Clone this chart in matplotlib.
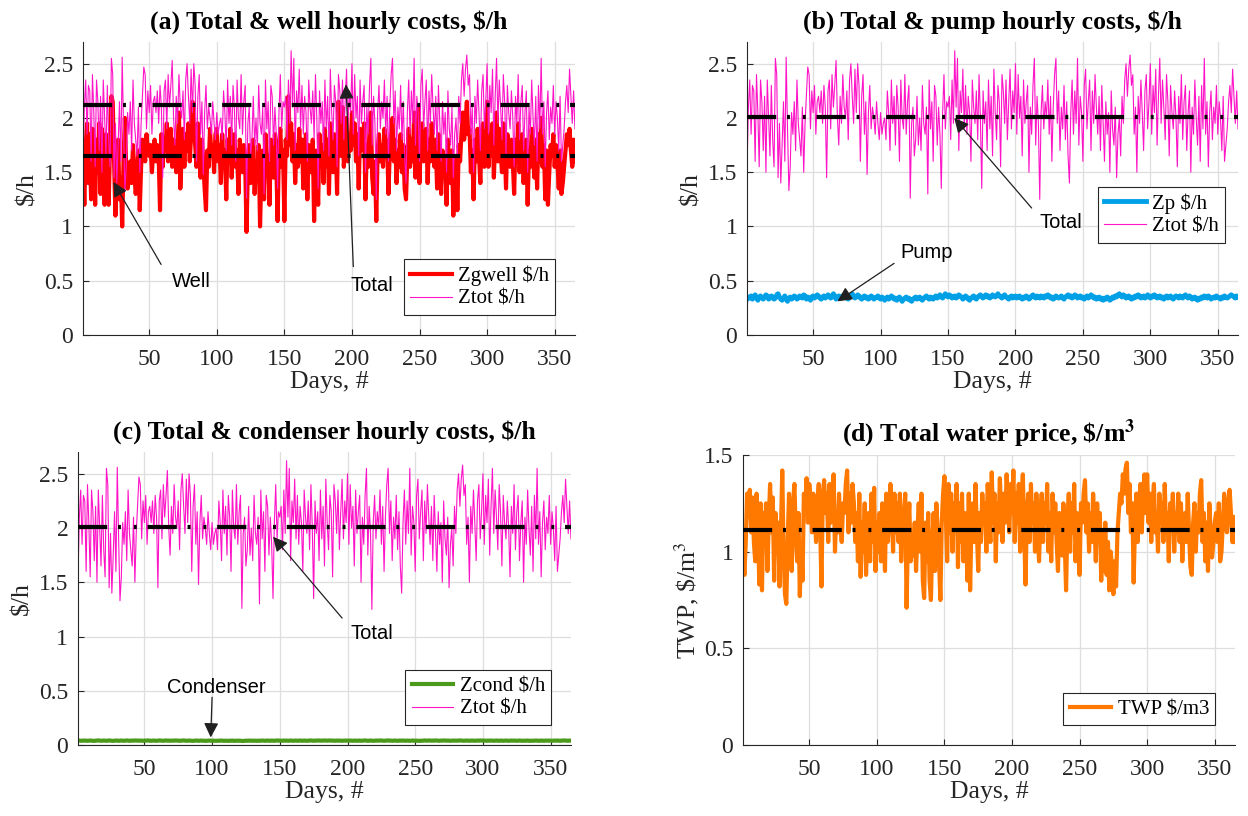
import numpy as np
import matplotlib.pyplot as plt

plt.rcParams['font.family'] = ['Liberation Serif', 'DejaVu Serif']
plt.rcParams['mathtext.fontset'] = 'stix'

# daily values (day 1 .. 365)
ztot = [
    1.55, 2.10, 2.35, 1.85, 2.30, 2.25, 1.60, 2.40, 2.05, 1.55, 2.35, 2.15, 1.70, 2.20, 1.50, 2.35, 2.00, 1.65, 2.30, 1.80,
    1.55, 2.55, 2.40, 1.45, 1.95, 1.40, 1.75, 2.15, 1.60, 2.56, 1.90, 1.33, 1.55, 2.05, 1.85, 2.15, 1.70, 2.35, 1.95, 1.80,
    1.65, 2.10, 1.50, 1.95, 2.20, 2.47, 2.40, 1.90, 2.25, 2.05, 2.30, 1.85, 2.15, 2.20, 2.05, 2.25, 1.95, 2.30, 2.10, 1.45,
    2.25, 2.35, 1.90, 2.40, 2.10, 2.30, 2.53, 2.00, 1.75, 2.20, 1.95, 2.40, 2.10, 2.00, 2.25, 1.80, 2.35, 2.50, 2.20, 1.95,
    2.45, 2.05, 2.50, 2.30, 1.60, 2.20, 2.40, 1.85, 2.15, 1.48, 2.05, 2.30, 1.90, 2.10, 2.00, 1.85, 2.15, 1.95, 1.80, 2.05,
    1.85, 1.95, 2.00, 1.80, 2.25, 2.05, 1.70, 2.35, 1.95, 2.20, 1.75, 2.30, 2.10, 1.60, 2.35, 2.00, 1.90, 2.40, 1.85, 2.15,
    2.30, 1.26, 1.95, 2.10, 1.65, 1.80, 2.20, 1.75, 2.00, 1.70, 2.30, 1.95, 1.85, 2.10, 1.30, 2.35, 1.90, 2.15, 1.60, 2.30,
    2.20, 1.75, 2.10, 1.85, 1.35, 2.05, 2.40, 1.90, 2.15, 2.10, 2.20, 1.80, 2.35, 1.95, 2.62, 2.10, 2.55, 1.70, 2.25, 2.05,
    2.45, 1.90, 2.30, 1.85, 2.20, 2.05, 1.60, 2.35, 2.10, 1.95, 2.25, 1.80, 2.40, 2.00, 1.35, 2.25, 1.95, 2.15, 1.70, 2.35,
    1.90, 2.20, 1.65, 2.45, 2.05, 1.80, 2.30, 2.15, 1.55, 2.40, 2.25, 1.95, 2.35, 1.80, 2.15, 2.45, 1.90, 2.25, 2.05, 2.50,
    1.85, 2.40, 2.00, 2.20, 1.65, 2.35, 1.95, 2.15, 2.30, 1.50, 2.10, 1.85, 2.30, 2.55, 1.75, 2.20, 1.95, 1.25, 2.05, 2.30,
    1.90, 2.15, 2.00, 2.35, 1.85, 2.20, 1.60, 2.10, 2.40, 2.55, 1.95, 2.25, 1.70, 2.10, 1.90, 2.30, 1.80, 2.15, 1.65, 1.40,
    2.05, 2.35, 1.85, 2.25, 1.95, 2.55, 1.75, 2.20, 2.05, 1.60, 2.30, 2.45, 1.90, 2.15, 2.35, 1.70, 2.25, 1.95, 2.40, 2.10,
    1.85, 2.20, 1.70, 2.30, 1.95, 1.60, 2.15, 1.85, 2.05, 1.50, 2.25, 1.90, 1.75, 2.10, 1.45, 1.85, 2.00, 1.65, 2.20, 1.95,
    2.35, 2.50, 2.20, 2.45, 2.58, 2.30, 2.40, 1.85, 2.10, 1.50, 2.20, 1.95, 2.35, 2.05, 1.70, 2.25, 2.40, 1.90, 2.15, 2.50,
    1.85, 2.30, 2.05, 2.45, 1.75, 2.20, 2.55, 1.95, 2.35, 2.10, 1.80, 2.40, 2.15, 1.65, 2.30, 2.05, 1.90, 2.25, 2.00, 1.55,
    2.20, 1.95, 2.40, 1.80, 2.15, 2.30, 1.70, 2.05, 2.25, 1.50, 2.10, 1.85, 2.35, 2.00, 1.75, 2.20, 1.60, 2.30, 1.90, 2.55,
    1.85, 2.15, 1.55, 2.05, 2.25, 1.80, 2.10, 1.95, 2.30, 1.85, 2.15, 2.00, 1.70, 2.20, 1.60, 1.75, 1.90, 2.15, 2.30, 2.05,
    2.45, 2.20, 1.95, 2.25, 1.90,
]

zgwell = [
    1.55, 1.20, 1.75, 1.95, 1.40, 1.85, 1.25, 1.90, 1.60, 1.20, 1.80, 1.50, 1.95, 1.30, 1.90, 1.70, 1.20, 1.85, 1.45, 1.20,
    1.75, 2.20, 2.15, 1.60, 1.10, 1.55, 1.80, 1.25, 1.45, 1.00, 1.60, 2.00, 1.50, 1.35, 1.45, 1.60, 1.40, 1.75, 1.50, 1.30,
    1.45, 1.70, 1.15, 1.55, 1.80, 1.75, 1.60, 1.85, 1.70, 1.65, 1.75, 1.50, 1.70, 1.80, 1.60, 1.75, 1.65, 1.15, 1.85, 1.55,
    1.80, 1.70, 1.95, 1.60, 1.75, 1.90, 1.55, 1.80, 1.65, 1.50, 1.75, 2.05, 1.35, 1.65, 1.90, 1.55, 1.85, 1.70, 1.95, 1.60,
    1.85, 2.15, 1.90, 1.75, 1.55, 1.95, 1.70, 1.45, 1.80, 1.60, 1.35, 1.15, 1.70, 1.55, 1.90, 1.65, 1.75, 1.50, 1.85, 1.90,
    1.60, 1.75, 1.40, 1.85, 1.55, 1.70, 1.25, 1.80, 1.60, 1.90, 1.45, 1.75, 1.85, 1.55, 1.70, 1.30, 1.80, 1.65, 1.50, 1.75,
    1.60, 0.95, 1.55, 1.75, 1.40, 1.65, 1.80, 1.30, 1.60, 1.45, 1.75, 1.00, 1.50, 1.70, 1.25, 1.85, 1.55, 1.65, 1.20, 1.80,
    1.70, 1.45, 1.85, 1.60, 1.05, 1.75, 1.90, 1.55, 1.70, 1.05, 1.80, 1.65, 2.20, 1.75, 1.95, 1.60, 1.85, 1.40, 1.75, 1.55,
    1.90, 1.60, 1.80, 1.35, 1.70, 1.85, 1.25, 1.75, 1.60, 1.50, 1.80, 1.05, 1.70, 1.55, 1.20, 1.85, 1.60, 1.75, 1.40, 1.90,
    1.55, 1.80, 1.30, 1.95, 1.70, 1.50, 1.85, 1.75, 1.30, 2.15, 1.90, 1.65, 2.10, 1.55, 1.80, 2.00, 1.60, 1.85, 1.70, 2.05,
    1.75, 1.95, 1.60, 1.85, 1.35, 1.90, 1.70, 1.80, 1.95, 1.25, 1.75, 1.55, 1.90, 2.05, 1.45, 1.30, 1.60, 1.05, 1.70, 1.85,
    1.60, 1.75, 1.55, 1.90, 1.65, 1.80, 1.30, 1.70, 1.85, 2.00, 1.60, 1.80, 1.40, 1.70, 1.55, 1.85, 1.50, 1.75, 1.35, 1.25,
    1.65, 1.90, 1.55, 1.80, 1.60, 2.05, 1.45, 1.75, 2.10, 1.40, 1.85, 1.95, 1.60, 1.75, 1.90, 1.40, 1.80, 1.60, 1.95, 1.70,
    1.55, 1.80, 1.35, 1.85, 1.60, 1.30, 1.70, 1.50, 1.65, 1.20, 1.80, 1.55, 1.40, 1.70, 1.10, 1.55, 1.65, 1.15, 1.75, 1.60,
    1.85, 2.05, 1.80, 1.95, 2.15, 1.85, 1.90, 1.50, 1.70, 1.25, 1.80, 1.60, 1.90, 1.65, 1.40, 1.85, 1.95, 1.55, 1.75, 2.15,
    1.55, 1.85, 1.65, 1.95, 1.45, 1.80, 2.05, 1.60, 1.90, 1.70, 1.50, 1.95, 1.75, 1.35, 1.85, 1.65, 1.55, 1.80, 1.60, 1.30,
    1.80, 1.60, 1.95, 1.50, 1.75, 1.85, 1.40, 1.70, 1.80, 1.20, 1.70, 1.55, 1.90, 1.65, 1.45, 1.80, 1.35, 1.85, 1.60, 2.00,
    1.55, 1.75, 1.25, 1.70, 1.20, 1.50, 1.75, 1.65, 1.85, 1.55, 1.75, 1.60, 1.35, 1.70, 1.30, 1.40, 1.55, 1.70, 1.85, 1.75,
    1.90, 1.70, 1.55, 1.80, 1.60,
]

zp = [
    0.33, 0.35, 0.34, 0.36, 0.33, 0.35, 0.37, 0.34, 0.32, 0.35, 0.36, 0.34, 0.33, 0.35, 0.37, 0.36, 0.33, 0.34, 0.36, 0.35,
    0.33, 0.34, 0.37, 0.38, 0.35, 0.33, 0.32, 0.34, 0.36, 0.33, 0.31, 0.34, 0.35, 0.33, 0.34, 0.36, 0.35, 0.33, 0.34, 0.36,
    0.35, 0.34, 0.37, 0.36, 0.33, 0.35, 0.34, 0.32, 0.35, 0.36, 0.34, 0.35, 0.37, 0.36, 0.34, 0.33, 0.35, 0.36, 0.34, 0.35,
    0.37, 0.36, 0.34, 0.35, 0.38, 0.36, 0.33, 0.34, 0.36, 0.35, 0.34, 0.36, 0.37, 0.35, 0.34, 0.33, 0.35, 0.36, 0.38, 0.36,
    0.34, 0.35, 0.37, 0.36, 0.34, 0.33, 0.35, 0.36, 0.34, 0.35, 0.33, 0.34, 0.36, 0.35, 0.33, 0.34, 0.35, 0.36, 0.34, 0.33,
    0.35, 0.34, 0.32, 0.34, 0.35, 0.33, 0.34, 0.36, 0.35, 0.33, 0.34, 0.32, 0.34, 0.35, 0.33, 0.31, 0.33, 0.34, 0.35, 0.33,
    0.34, 0.32, 0.31, 0.33, 0.34, 0.35, 0.33, 0.34, 0.35, 0.33, 0.32, 0.34, 0.35, 0.36, 0.34, 0.33, 0.35, 0.34, 0.33, 0.35,
    0.36, 0.34, 0.35, 0.37, 0.35, 0.34, 0.36, 0.38, 0.36, 0.35, 0.37, 0.36, 0.34, 0.35, 0.36, 0.34, 0.35, 0.37, 0.36, 0.35,
    0.33, 0.34, 0.36, 0.35, 0.33, 0.32, 0.34, 0.35, 0.36, 0.34, 0.33, 0.35, 0.36, 0.37, 0.35, 0.34, 0.36, 0.37, 0.35, 0.36,
    0.34, 0.35, 0.37, 0.36, 0.35, 0.36, 0.38, 0.36, 0.35, 0.34, 0.36, 0.37, 0.35, 0.34, 0.33, 0.35, 0.36, 0.34, 0.35, 0.36,
    0.34, 0.35, 0.36, 0.34, 0.33, 0.35, 0.34, 0.36, 0.35, 0.33, 0.34, 0.36, 0.37, 0.35, 0.34, 0.36, 0.35, 0.34, 0.36, 0.35,
    0.34, 0.36, 0.35, 0.37, 0.36, 0.34, 0.35, 0.33, 0.34, 0.36, 0.35, 0.34, 0.35, 0.36, 0.34, 0.33, 0.35, 0.36, 0.37, 0.35,
    0.36, 0.34, 0.35, 0.37, 0.36, 0.34, 0.35, 0.36, 0.34, 0.35, 0.33, 0.35, 0.36, 0.34, 0.35, 0.37, 0.36, 0.34, 0.35, 0.33,
    0.34, 0.35, 0.33, 0.34, 0.32, 0.34, 0.33, 0.35, 0.34, 0.32, 0.33, 0.35, 0.34, 0.36, 0.35, 0.37, 0.38, 0.36, 0.35, 0.37,
    0.36, 0.34, 0.35, 0.36, 0.34, 0.33, 0.35, 0.34, 0.36, 0.35, 0.37, 0.36, 0.34, 0.35, 0.36, 0.34, 0.35, 0.37, 0.35, 0.34,
    0.36, 0.35, 0.37, 0.36, 0.34, 0.35, 0.36, 0.34, 0.35, 0.33, 0.35, 0.36, 0.34, 0.35, 0.36, 0.34, 0.33, 0.35, 0.36, 0.35,
    0.34, 0.36, 0.35, 0.34, 0.36, 0.37, 0.35, 0.34, 0.36, 0.35, 0.33, 0.34, 0.35, 0.33, 0.32, 0.34, 0.33, 0.35, 0.34, 0.36,
    0.35, 0.34, 0.36, 0.35, 0.33, 0.34, 0.35, 0.34, 0.36, 0.35, 0.34, 0.33, 0.35, 0.34, 0.36, 0.35, 0.34, 0.35, 0.36, 0.37,
    0.36, 0.35, 0.34, 0.36, 0.35,
]

zcond = [
    0.040, 0.041, 0.039, 0.040, 0.042, 0.041, 0.040, 0.039, 0.040, 0.041, 0.040, 0.039, 0.038, 0.040, 0.041, 0.042, 0.040, 0.039, 0.040, 0.041,
    0.040, 0.039, 0.041, 0.042, 0.040, 0.039, 0.038, 0.040, 0.041, 0.040, 0.039, 0.040, 0.041, 0.040, 0.039, 0.041, 0.042, 0.040, 0.039, 0.040,
    0.041, 0.040, 0.042, 0.041, 0.039, 0.040, 0.041, 0.040, 0.039, 0.041, 0.040, 0.042, 0.041, 0.040, 0.039, 0.040, 0.041, 0.040, 0.039, 0.041,
    0.042, 0.041, 0.040, 0.039, 0.041, 0.042, 0.040, 0.041, 0.039, 0.040, 0.041, 0.040, 0.042, 0.041, 0.040, 0.039, 0.040, 0.041, 0.042, 0.040,
    0.039, 0.040, 0.041, 0.040, 0.039, 0.038, 0.040, 0.041, 0.040, 0.039, 0.040, 0.041, 0.039, 0.040, 0.038, 0.039, 0.040, 0.041, 0.040, 0.039,
    0.040, 0.039, 0.038, 0.040, 0.039, 0.040, 0.041, 0.039, 0.038, 0.040, 0.039, 0.038, 0.040, 0.039, 0.041, 0.038, 0.039, 0.040, 0.039, 0.040,
    0.039, 0.038, 0.037, 0.039, 0.040, 0.039, 0.040, 0.041, 0.039, 0.040, 0.039, 0.040, 0.038, 0.040, 0.039, 0.040, 0.041, 0.040, 0.039, 0.040,
    0.041, 0.040, 0.039, 0.041, 0.040, 0.039, 0.041, 0.042, 0.040, 0.041, 0.040, 0.039, 0.041, 0.040, 0.041, 0.039, 0.040, 0.041, 0.040, 0.039,
    0.040, 0.041, 0.039, 0.040, 0.041, 0.040, 0.039, 0.041, 0.040, 0.039, 0.040, 0.041, 0.042, 0.040, 0.039, 0.041, 0.040, 0.042, 0.041, 0.040,
    0.041, 0.040, 0.042, 0.041, 0.040, 0.041, 0.042, 0.040, 0.041, 0.040, 0.039, 0.041, 0.040, 0.041, 0.040, 0.039, 0.040, 0.041, 0.040, 0.041,
    0.040, 0.041, 0.040, 0.039, 0.040, 0.041, 0.039, 0.040, 0.041, 0.039, 0.040, 0.041, 0.042, 0.040, 0.039, 0.040, 0.041, 0.040, 0.039, 0.040,
    0.040, 0.041, 0.040, 0.042, 0.041, 0.040, 0.039, 0.040, 0.041, 0.042, 0.040, 0.041, 0.039, 0.040, 0.041, 0.040, 0.039, 0.040, 0.041, 0.040,
    0.041, 0.040, 0.039, 0.041, 0.040, 0.039, 0.040, 0.041, 0.040, 0.039, 0.040, 0.039, 0.038, 0.040, 0.039, 0.041, 0.042, 0.041, 0.040, 0.042,
    0.041, 0.040, 0.041, 0.040, 0.042, 0.041, 0.040, 0.039, 0.041, 0.040, 0.042, 0.041, 0.040, 0.041, 0.040, 0.039, 0.040, 0.041, 0.040, 0.041,
    0.040, 0.041, 0.042, 0.041, 0.040, 0.039, 0.041, 0.040, 0.041, 0.039, 0.040, 0.041, 0.040, 0.039, 0.040, 0.041, 0.040, 0.042, 0.041, 0.040,
    0.041, 0.040, 0.039, 0.041, 0.040, 0.041, 0.040, 0.039, 0.040, 0.041, 0.040, 0.039, 0.041, 0.040, 0.039, 0.040, 0.041, 0.040, 0.039, 0.040,
    0.041, 0.040, 0.041, 0.040, 0.039, 0.040, 0.041, 0.040, 0.039, 0.040, 0.039, 0.040, 0.041, 0.039, 0.038, 0.040, 0.039, 0.040, 0.041, 0.040,
    0.040, 0.039, 0.041, 0.040, 0.039, 0.040, 0.041, 0.040, 0.041, 0.040, 0.039, 0.040, 0.041, 0.040, 0.041, 0.040, 0.039, 0.040, 0.041, 0.042,
    0.041, 0.040, 0.039, 0.041, 0.040,
]

twp = [
    1.00, 0.88, 1.05, 1.30, 1.18, 1.32, 1.10, 1.28, 1.05, 0.95, 1.30, 1.15, 0.83, 1.25, 0.80, 1.20, 1.05, 1.25, 0.90, 1.15,
    1.35, 1.10, 1.28, 0.85, 1.20, 1.00, 1.15, 0.82, 1.10, 1.42, 1.00, 0.78, 0.73, 1.05, 1.30, 1.15, 0.90, 1.25, 1.35, 1.10,
    0.95, 1.20, 0.77, 1.05, 0.85, 1.30, 1.20, 1.38, 1.15, 1.35, 1.25, 1.10, 1.30, 1.20, 1.05, 1.25, 1.35, 1.15, 0.82, 1.30,
    1.37, 1.20, 1.30, 1.05, 1.35, 1.15, 1.25, 1.40, 1.00, 1.20, 1.10, 1.30, 1.15, 1.05, 1.25, 1.20, 1.35, 1.42, 1.10, 1.30,
    1.15, 1.35, 1.25, 1.05, 1.20, 0.95, 1.30, 0.87, 1.15, 1.00, 1.25, 0.88, 1.10, 1.20, 0.95, 1.30, 1.05, 1.33, 0.90, 1.15,
    1.00, 1.20, 0.95, 1.25, 1.10, 0.90, 1.30, 1.05, 1.15, 1.35, 1.20, 1.00, 1.30, 1.10, 1.25, 1.05, 1.30, 0.95, 1.15, 1.20,
    1.30, 0.71, 1.10, 1.25, 0.95, 1.05, 0.98, 1.15, 0.90, 1.10, 1.25, 1.00, 1.30, 0.85, 0.76, 1.15, 0.95, 1.20, 0.85, 0.75,
    1.05, 1.20, 0.90, 1.25, 1.10, 0.95, 0.75, 1.15, 1.30, 1.39, 1.20, 0.95, 1.35, 1.10, 1.30, 1.00, 1.25, 1.15, 1.35, 0.92,
    1.25, 1.05, 1.30, 0.95, 1.20, 1.10, 0.85, 1.30, 0.80, 1.15, 1.25, 1.05, 1.35, 1.10, 0.90, 1.20, 1.05, 1.30, 1.15, 1.25,
    1.00, 1.35, 1.20, 1.05, 1.41, 1.15, 1.30, 0.95, 1.25, 1.10, 1.38, 1.20, 1.05, 1.30, 1.15, 1.40, 1.25, 1.10, 1.35, 1.20,
    1.42, 1.05, 1.30, 1.15, 1.35, 1.00, 1.25, 1.40, 1.10, 0.83, 1.20, 1.30, 1.05, 1.35, 1.15, 1.25, 1.00, 1.30, 1.10, 0.95,
    1.20, 1.30, 1.05, 1.25, 1.15, 1.35, 1.00, 1.20, 0.95, 1.30, 1.10, 1.25, 1.05, 0.90, 1.20, 1.15, 0.98, 1.25, 1.05, 0.80,
    1.15, 1.30, 1.00, 1.25, 1.10, 1.35, 0.95, 1.20, 1.05, 0.88, 1.25, 1.15, 1.30, 1.37, 1.10, 1.25, 1.00, 1.20, 1.05, 1.30,
    1.15, 0.95, 1.25, 1.05, 1.20, 0.85, 1.10, 0.90, 1.15, 0.88, 1.05, 0.80, 1.00, 0.92, 0.78, 0.95, 0.82, 1.10, 1.20, 1.30,
    1.25, 1.40, 1.30, 1.43, 1.46, 1.20, 1.35, 1.10, 1.25, 0.84, 1.15, 1.30, 1.05, 1.25, 1.35, 1.10, 1.30, 1.40, 1.20, 1.40,
    1.15, 1.30, 1.05, 1.25, 1.35, 1.10, 1.20, 1.00, 1.30, 1.15, 1.25, 1.05, 1.35, 1.10, 1.20, 0.95, 1.25, 1.15, 1.30, 1.00,
    1.20, 1.10, 1.30, 1.05, 1.25, 0.95, 1.15, 1.20, 1.05, 1.30, 1.10, 0.92, 0.88, 1.15, 1.25, 1.00, 1.20, 1.10, 1.30, 1.37,
    1.05, 1.20, 0.95, 1.15, 0.90, 1.25, 1.10, 0.97, 1.05, 1.15, 1.20, 1.05, 1.25, 0.95, 1.00, 1.15, 1.30, 1.20, 1.10, 1.25,
    1.32, 1.20, 1.05, 1.18, 1.05,
]

# average levels (black dash-dot lines)
mean_tot_a = 2.12
mean_well = 1.65
mean_tot = 2.01
mean_twp = 1.11

c_well = '#ff0000'
c_tot = '#ff14c8'
c_pump = '#00a0e6'
c_cond = '#4c9a1c'
c_twp = '#ff7800'
dashdot = (0, (7, 2.6, 0.7, 3.1, 0.7, 2.6))
sans = ['Liberation Sans', 'DejaVu Sans']


def days(v):
    return np.arange(1, len(v) + 1)


def style_axes(ax, ymax, yticks):
    ax.set_xlim(1, 365)
    ax.set_ylim(0, ymax)
    ax.set_xticks([50, 100, 150, 200, 250, 300, 350])
    ax.set_yticks(yticks)
    ax.set_yticklabels([f'{t:g}' for t in yticks])
    ax.grid(True, color='#dedede', linewidth=0.9)
    ax.set_axisbelow(True)
    for s in ['top', 'right']:
        ax.spines[s].set_visible(False)
    for s in ['left', 'bottom']:
        ax.spines[s].set_color('#262626')
        ax.spines[s].set_linewidth(0.8)
    ax.tick_params(direction='in', length=4, labelsize=17, colors='#262626')
    ax.tick_params(axis='x', pad=10)
    ax.tick_params(axis='y', pad=7)
    ax.set_xlabel('Days, #', fontsize=18.5, color='#262626', labelpad=1)


def mean_line(ax, level):
    ax.plot([1, 365], [level, level], color='k', linewidth=3, linestyle=dashdot, zorder=5)


def arrow(ax, label, head, tail, text_xy):
    ax.annotate('', xy=head, xytext=tail,
                arrowprops=dict(arrowstyle='-|>', color='#202020', lw=0.9, mutation_scale=22,
                                shrinkA=0, shrinkB=0), zorder=6)
    ax.text(text_xy[0], text_xy[1], label, family=sans, fontsize=14.5, ha='center', va='center', zorder=6)


def legend(ax, loc='lower right', anchor=(0.96, 0.068)):
    leg = ax.legend(loc=loc, bbox_to_anchor=anchor, fontsize=15, frameon=True,
                    fancybox=False, edgecolor='#262626', framealpha=1, borderpad=0.3,
                    handlelength=2.0, handletextpad=0.3, labelspacing=0.15, borderaxespad=0)
    leg.get_frame().set_linewidth(0.8)


fig = plt.figure(figsize=(12.48, 8.16), dpi=100)
ticks_cost = [0, 0.5, 1, 1.5, 2, 2.5]

# (a) total & well
ax = fig.add_axes([0.0665, 0.5895, 0.3942, 0.359])
ax.plot(days(zgwell), zgwell, color=c_well, linewidth=3, label='Zgwell $/h')
ax.plot(days(ztot), ztot, color=c_tot, linewidth=0.8, label='Ztot $/h')
mean_line(ax, mean_tot_a)
mean_line(ax, mean_well)
style_axes(ax, 2.7, ticks_cost)
ax.set_ylabel('$/h', fontsize=18.5, color='#262626', labelpad=4)
ax.set_title('(a) Total & well hourly costs, $/h', fontsize=18.5, fontweight='bold', pad=10)
arrow(ax, 'Well', (23.5, 1.41), (58.8, 0.65), (81, 0.49))
arrow(ax, 'Total', (195.6, 2.31), (201, 0.63), (215, 0.46))
legend(ax)

# (b) total & pump
ax = fig.add_axes([0.5986, 0.5895, 0.3934, 0.359])
ax.plot(days(zp), zp, color=c_pump, linewidth=3.5, label='Zp $/h')
ax.plot(days(ztot), ztot, color=c_tot, linewidth=0.8, label='Ztot $/h')
mean_line(ax, mean_tot)
style_axes(ax, 2.7, ticks_cost)
ax.set_ylabel('$/h', fontsize=18.5, color='#262626', labelpad=4)
ax.set_title('(b) Total & pump hourly costs, $/h', fontsize=18.5, fontweight='bold', pad=10)
arrow(ax, 'Total', (154.6, 2.0), (212, 1.17), (234, 1.04))
arrow(ax, 'Pump', (68, 0.31), (110, 0.66), (134, 0.76))
legend(ax, 'upper right', (0.974, 0.505))

# (c) total & condenser
ax = fig.add_axes([0.0625, 0.087, 0.395, 0.359])
ax.plot(days(zcond), zcond, color=c_cond, linewidth=3, label='Zcond $/h')
ax.plot(days(ztot), ztot, color=c_tot, linewidth=0.8, label='Ztot $/h')
mean_line(ax, mean_tot)
style_axes(ax, 2.7, ticks_cost)
ax.set_ylabel('$/h', fontsize=18.5, color='#262626', labelpad=4)
ax.set_title('(c) Total & condenser hourly costs, $/h', fontsize=18.5, fontweight='bold', pad=10)
arrow(ax, 'Total', (145, 1.92), (196, 1.17), (218, 1.03))
arrow(ax, 'Condenser', (99, 0.07), (100, 0.44), (103, 0.53))
legend(ax)

# (d) total water price
ax = fig.add_axes([0.5954, 0.087, 0.3942, 0.3554])
ax.plot(days(twp), twp, color=c_twp, linewidth=3, label='TWP $/m3')
mean_line(ax, mean_twp)
style_axes(ax, 1.5, [0, 0.5, 1, 1.5])
ax.set_ylabel(r'TWP, \$/m$^{3}$', fontsize=18.5, color='#262626', labelpad=2)
ax.set_title(r'(d) Total water price, \$/m$^{\mathbf{3}}$', fontsize=18.5, fontweight='bold', pad=10)
legend(ax)

fig.savefig('out.png', dpi=100)
